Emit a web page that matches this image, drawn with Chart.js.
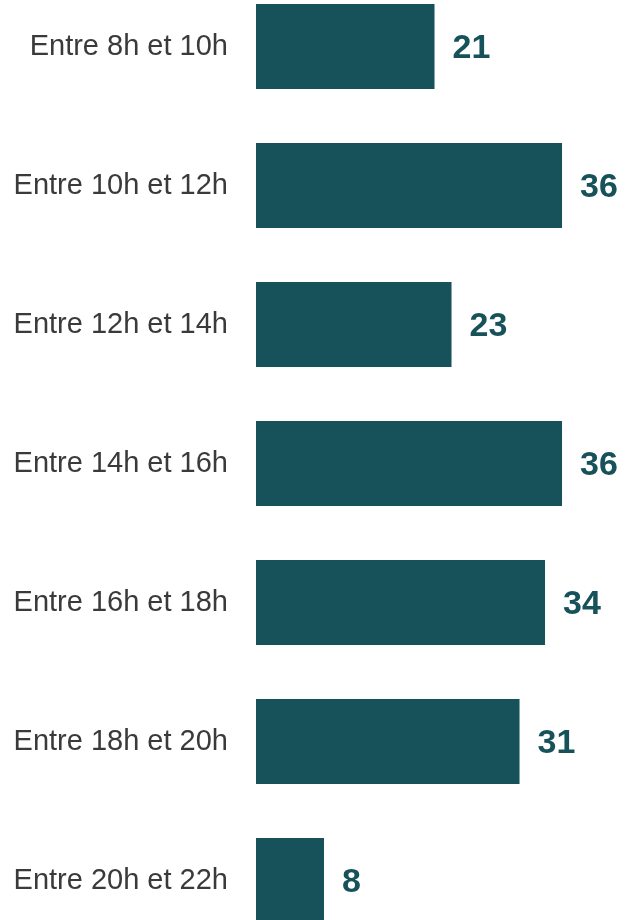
<!DOCTYPE html>
<html>
<head>
<meta charset="utf-8">
<script src="https://cdn.jsdelivr.net/npm/chart.js@4/dist/chart.umd.min.js"></script>
<style>
  html, body { margin: 0; padding: 0; background: #fff; overflow: hidden; }
  #wrap { position: relative; width: 628px; height: 920px; overflow: hidden; }
  #chart { position: absolute; left: 0; top: -23px; }
</style>
</head>
<body>
<div id="wrap"><canvas id="chart" width="628" height="973"></canvas></div>
<script>
const categories = ['Entre 8h et 10h', 'Entre 10h et 12h', 'Entre 12h et 14h', 'Entre 14h et 16h',
                    'Entre 16h et 18h', 'Entre 18h et 20h', 'Entre 20h et 22h'];
const values = [21, 36, 23, 36, 34, 31, 8];

const teal = '#17525a';
const fontFamily = '"Liberation Sans", Arial, sans-serif';

// draws the number just right of each bar
const valueLabels = {
    id: 'valueLabels',
    afterDatasetsDraw(chart) {
        const ctx = chart.ctx;
        const meta = chart.getDatasetMeta(0);
        ctx.save();
        ctx.font = 'bold 34px ' + fontFamily;
        ctx.fillStyle = teal;
        ctx.textAlign = 'left';
        ctx.textBaseline = 'middle';
        meta.data.forEach((bar, i) => {
            ctx.fillText(values[i], bar.x + 18, bar.y + 2);
        });
        ctx.restore();
    }
};

new Chart(document.getElementById('chart'), {
    type: 'bar',
    data: {
        labels: categories,
        datasets: [{
            data: values,
            backgroundColor: teal,
            borderWidth: 0,
            categoryPercentage: 1,
            barPercentage: 0.61
        }]
    },
    options: {
        indexAxis: 'y',
        responsive: false,
        animation: false,
        layout: { padding: 0 },
        plugins: { legend: { display: false }, tooltip: { enabled: false } },
        scales: {
            x: { display: false, min: 0, max: 43.76 },
            y: {
                grid: { display: false, drawTicks: false },
                border: { display: false },
                ticks: {
                    color: '#3a3a3a',
                    padding: 28,
                    font: { family: fontFamily, size: 29 }
                },
                afterFit(scale) {
                    scale.width = 256;
                    // no extra room above/below, the bands fill the canvas
                    scale.paddingTop = 0;
                    scale.paddingBottom = 0;
                }
            }
        }
    },
    plugins: [valueLabels]
});
</script>
</body>
</html>
